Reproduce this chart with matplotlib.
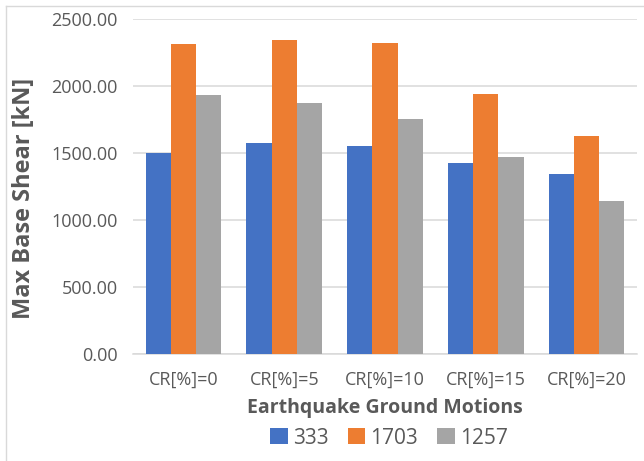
import numpy as np
import matplotlib
matplotlib.use('Agg')
import matplotlib.pyplot as plt
from matplotlib.lines import Line2D
from matplotlib.ticker import FormatStrFormatter

plt.rcParams['font.family'] = ['Open Sans', 'DejaVu Sans']

categories = ['CR[%]=0', 'CR[%]=5', 'CR[%]=10', 'CR[%]=15', 'CR[%]=20']
series_names = ['333', '1703', '1257']
values_333 = [1498, 1575, 1550, 1423, 1341]
values_1703 = [2309, 2341, 2321, 1935, 1622]
values_1257 = [1931, 1873, 1751, 1466, 1142]
colors = ['#4472C4', '#ED7D31', '#A5A5A5']
text_grey = '#595959'

W, H = 644, 461
fig = plt.figure(figsize=(W / 100, H / 100), dpi=100)
ax = fig.add_axes([133 / W, 1 - 354 / H, (637 - 133) / W, (354 - 18.7) / H])

x = np.arange(len(categories))
width = 0.25
for i, (vals, name) in enumerate(zip([values_333, values_1703, values_1257], series_names)):
    ax.bar(x + (i - 1) * width, vals, width, color=colors[i], label=name, zorder=3)

ax.set_xlim(-0.5, len(categories) - 0.5)
ax.set_ylim(0, 2500)
ax.set_yticks(np.arange(0, 2501, 500))
ax.yaxis.set_major_formatter(FormatStrFormatter('%.2f'))
ax.set_xticks(x)
ax.set_xticklabels(categories)

ax.grid(axis='y', color='#d9d9d9', linewidth=1.1, zorder=0)
for s in ['top', 'right', 'left']:
    ax.spines[s].set_visible(False)
ax.spines['bottom'].set_color('#d9d9d9')
ax.spines['bottom'].set_linewidth(1.1)
ax.tick_params(axis='both', length=0, labelsize=13, labelcolor=text_grey)
ax.tick_params(axis='y', pad=11)
ax.tick_params(axis='x', pad=12)

ax.set_xlabel('Earthquake Ground Motions', fontsize=14, fontweight='bold',
              color=text_grey, labelpad=7)
fig.text(24 / W, 1 - 198 / H, 'Max Base Shear [kN]', rotation=90, fontsize=17,
         fontweight='bold', color=text_grey, ha='center', va='center')

handles, labels = ax.get_legend_handles_labels()
fig.legend(handles, labels, loc='center', bbox_to_anchor=(389 / W, 1 - 438 / H),
           ncol=3, frameon=False, fontsize=15, labelcolor=text_grey,
           handlelength=0.85, handleheight=0.8, handletextpad=0.25,
           columnspacing=0.9)

# chart border (left and top edges are visible in the source)
fig.add_artist(Line2D([6 / W, 6 / W], [0, 1 - 6 / H], color='#d9d9d9', lw=1.0))
fig.add_artist(Line2D([6 / W, 1], [1 - 6 / H, 1 - 6 / H], color='#d9d9d9', lw=1.0))

fig.savefig('out.png', dpi=100)
